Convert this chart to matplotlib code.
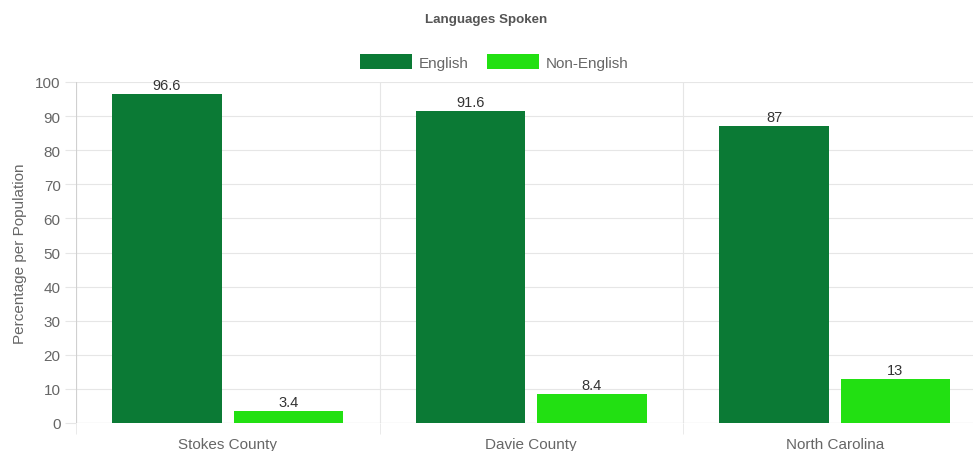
import matplotlib
matplotlib.use("Agg")
import matplotlib.pyplot as plt
import numpy as np

categories = ["Stokes County", "Davie County", "North Carolina"]
english = [96.6, 91.6, 87]
non_english = [3.4, 8.4, 13]
series_names = ["English", "Non-English"]
colors = ["#0b7a35", "#22e012"]
y_ticks = list(range(0, 101, 10))

plt.rcParams['font.family'] = ['Liberation Sans', 'DejaVu Sans']

W, H = 973, 452
fig = plt.figure(figsize=(W/100, H/100), dpi=100)
left = 76 / W
right = 986.5 / W
bottom = 1 - 424 / H
top = 1 - 83 / H
ax = fig.add_axes([left, bottom, right - left, top - bottom])

n = len(categories)
x = np.arange(n)
cat_w = 0.8
bar_w = cat_w / 2 * 0.9
offs = [-cat_w / 4, cat_w / 4]
for vals, off, c, name in zip([english, non_english], offs, colors, series_names):
    ax.bar(x + off, vals, width=bar_w, color=c, label=name, zorder=3)
    for xi, v in zip(x + off, vals):
        ax.annotate(f"{v:g}", (xi, v), xytext=(0, 1.5), textcoords="offset points",
                    ha="center", va="bottom", fontsize=10.5, color="#333333")

ax.set_xlim(-0.5, n - 0.5)
ax.set_ylim(0, 100)
ax.set_yticks(y_ticks)
ax.set_xticks(x)
ax.set_xticklabels(categories)
ax.set_xticks(np.arange(n + 1) - 0.5, minor=True)
ax.grid(True, axis='y', color="#e6e6e6", linewidth=0.8, zorder=0)
ax.grid(True, axis='x', which='minor', color="#e6e6e6", linewidth=0.8, zorder=0)
ax.tick_params(axis='x', which='major', length=0, labelsize=11, colors="#666666", pad=10)
ax.tick_params(axis='x', which='minor', length=8, color="#e6e6e6")
ax.tick_params(axis='y', length=8, color="#e6e6e6", labelsize=11, labelcolor="#666666", pad=3)
for s in ax.spines.values():
    s.set_visible(False)
ax.axhline(0, color="#d0d0d0", linewidth=0.8, zorder=2)
ax.axvline(-0.5, color="#d0d0d0", linewidth=0.8, zorder=2)
ax.set_ylabel("Percentage per Population", fontsize=11, color="#666666", labelpad=6)

fig.text(486 / W, 1 - 20 / H, "Languages Spoken", ha="center", va="center",
         fontsize=9.6, fontweight="bold", color="#555555")
fig.legend(loc="center", bbox_to_anchor=(494 / W, 1 - 63 / H), ncol=2, frameon=False,
           fontsize=11, handlelength=3.4, handleheight=1.05, columnspacing=1.2,
           handletextpad=0.45, labelcolor="#666666")

fig.savefig("out.png", dpi=100)
